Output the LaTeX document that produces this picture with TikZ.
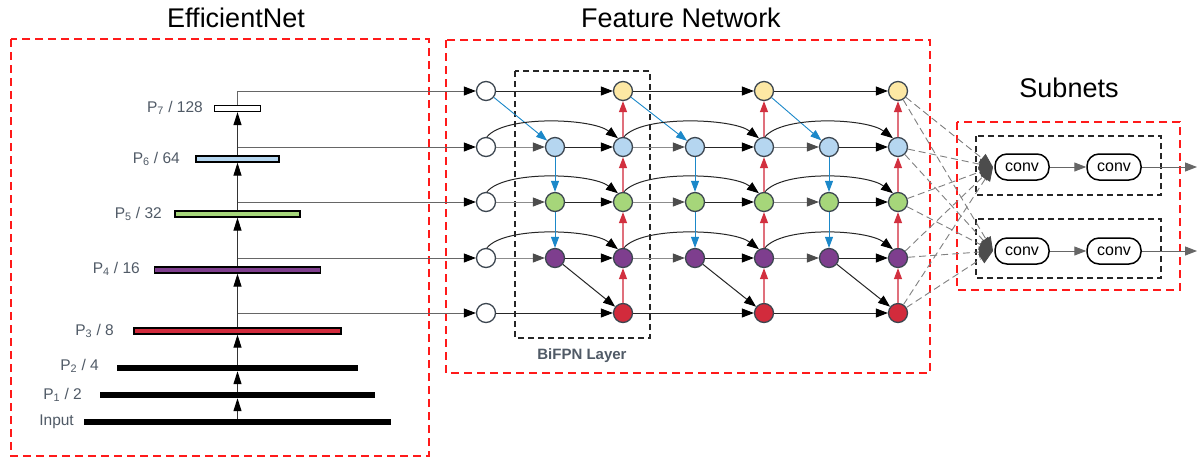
\documentclass[tikz,border=0pt]{standalone}
\usepackage{fontspec}
\setmainfont{Liberation Sans}
\usetikzlibrary{arrows.meta,calc}
\definecolor{redbox}{HTML}{FF1A1A}
\definecolor{ncirc}{HTML}{3C4650}
\definecolor{cPseven}{HTML}{FDE8A4}
\definecolor{cPsix}{HTML}{B5D6F0}
\definecolor{cPfive}{HTML}{A6D67A}
\definecolor{cPfour}{HTML}{7E3E8E}
\definecolor{cPthree}{HTML}{D22B3C}
\definecolor{lblgray}{HTML}{505A66}
\definecolor{bluearr}{HTML}{1B88C9}
\definecolor{redline}{HTML}{E0707C}
\definecolor{redtip}{HTML}{D2303F}
\tikzset{
  fnode/.style={circle, draw=ncirc, line width=1.3pt, minimum size=19pt, inner sep=0pt, fill=white},
  redbox/.style={draw=redbox, line width=2.2pt, dash pattern=on 8pt off 5pt},
  blkbox/.style={draw=black!85, line width=1.8pt, dash pattern=on 6pt off 4pt},
  blk/.style={draw=black!85, line width=1pt, -{Triangle[length=12pt,width=9pt,color=black]}},
  gry/.style={draw=black!45, line width=1pt, -{Triangle[length=12pt,width=9pt,color=black!70]}},
  bluea/.style={draw=bluearr, line width=0.9pt, -{Triangle[length=11pt,width=8pt]}},
  redup/.style={draw=redline, line width=1.2pt, -{Triangle[length=11pt,width=8pt,color=redtip]}},
  curvea/.style={draw=black!85, line width=1pt, -{Triangle[length=12pt,width=9pt,color=black]}},
  feed/.style={draw=black!60, line width=1pt, -{Triangle[length=12pt,width=9pt,color=black]}},
  bar/.style={rectangle, draw=black, line width=1.3pt, minimum height=6pt, inner sep=0pt},
  blackbar/.style={rectangle, fill=black, minimum height=6pt, inner sep=0pt},
  upa/.style={draw=black!80, line width=1pt, -{Triangle[length=13pt,width=8pt,color=black]}},
  outdash/.style={draw=black!50, line width=0.9pt, dash pattern=on 7pt off 4pt, -{Triangle[length=14pt,width=11pt,color=black!70]}},
  convbox/.style={draw=black, line width=1.5pt, rounded corners=12pt, minimum width=54pt, minimum height=26pt, inner sep=0pt, font=\fontsize{16}{18}\selectfont},
  graya/.style={draw=black!60, line width=1pt, -{Triangle[length=12pt,width=9pt,color=black!60]}},
  lbl/.style={anchor=east, text=lblgray, inner sep=0pt, font=\fontsize{15.5}{17}\selectfont},
  ttl/.style={font=\fontsize{27}{30}\selectfont, inner sep=0pt}
}
\begin{document}
\begin{tikzpicture}[x=1pt,y=-1pt]
\useasboundingbox[fill=white] (0,0) rectangle (1203,459);

% titles
\node[ttl] (tEff) at (236,18) {EfficientNet};
\node[ttl] (tFeat) at (681,18) {Feature Network};
\node[ttl] (tSub) at (1069,88) {Subnets};

% group frames
\draw[redbox] (11,39) rectangle (429,456);
\draw[redbox] (446,40) rectangle (930,373);
\draw[redbox] (957,122) rectangle (1180,290);
\draw[blkbox] (515,71) rectangle (650,338);
\draw[blkbox] (976,136) rectangle (1161,195);
\draw[blkbox] (976,219) rectangle (1161,278);
\node[font=\bfseries\fontsize{15}{17}\selectfont, text=lblgray] (bifpn) at (582,356) {BiFPN Layer};

% backbone feature maps
\node[bar, fill=white, minimum width=46pt] (p7) at (237.5,108.5) {};
\node[bar, fill=cPsix, minimum width=83pt] (p6) at (237.5,159) {};
\node[bar, fill=cPfive, minimum width=125pt] (p5) at (237.5,214) {};
\node[bar, fill=cPfour, minimum width=166pt] (p4) at (237.5,270) {};
\node[bar, fill=cPthree, minimum width=207pt] (p3) at (237.5,331) {};
\node[blackbar, minimum width=241pt] (p2) at (237.5,368) {};
\node[blackbar, minimum width=275pt] (p1) at (237.5,395) {};
\node[blackbar, minimum width=307pt] (pin) at (237.5,422) {};

\node[lbl] (l7) at (203,108) {P\textsubscript{7} / 128};
\node[lbl] (l6) at (180,159) {P\textsubscript{6} / 64};
\node[lbl] (l5) at (162,214) {P\textsubscript{5} / 32};
\node[lbl] (l4) at (140,269) {P\textsubscript{4} / 16};
\node[lbl] (l3) at (114,331) {P\textsubscript{3} / 8};
\node[lbl] (l2) at (99,366) {P\textsubscript{2} / 4};
\node[lbl] (l1) at (82,395) {P\textsubscript{1} / 2};
\node[lbl] (l0) at (74,422) {Input};

\draw[upa] (pin) -- (p1);
\draw[upa] (p1) -- (p2);
\draw[upa] (p2) -- (p3);
\draw[upa] (p3) -- (p4);
\draw[upa] (p4) -- (p5);
\draw[upa] (p5) -- (p6);
\draw[upa] (p6) -- (p7);

% feature network nodes
\foreach \r/\y in {7/91,6/147,5/202,4/258,3/313}
  \node[fnode] (n0\r) at (486,\y) {};
\foreach \c/\x in {2/623,4/764,6/898}
  \foreach \r/\y/\f in {7/91/cPseven,6/147/cPsix,5/202/cPfive,4/258/cPfour,3/313/cPthree}
    \node[fnode, fill=\f] (n\c\r) at (\x,\y) {};
\foreach \c/\x in {1/555,3/695,5/829}
  \foreach \r/\y/\f in {6/147/cPsix,5/202/cPfive,4/258/cPfour}
    \node[fnode, fill=\f] (n\c\r) at (\x,\y) {};

% backbone outputs into the feature network
\draw[feed] (p7.north) |- (n07);
\foreach \r in {6,5,4,3}
  \draw[feed] (p\r |- n0\r) -- (n0\r);

% three BiFPN layers
\foreach \p/\t/\b in {0/1/2,2/3/4,4/5/6}{
  \draw[blk] (n\p7) -- (n\b7);
  \draw[bluea] (n\p7) -- (n\t6);
  \foreach \r in {6,5,4}{
    \draw[gry] (n\p\r) -- (n\t\r);
    \draw[blk] (n\t\r) -- (n\b\r);
    \draw[curvea] (n\p\r.85) .. controls +(18,-22) and +(-26,-20) .. (n\b\r.120);
  }
  \draw[bluea] (n\t6) -- (n\t5);
  \draw[bluea] (n\t5) -- (n\t4);
  \draw[blk] (n\t4) -- (n\b3);
  \draw[blk] (n\p3) -- (n\b3);
  \draw[redup] (n\b3) -- (n\b4);
  \draw[redup] (n\b4) -- (n\b5);
  \draw[redup] (n\b5) -- (n\b6);
  \draw[redup] (n\b6) -- (n\b7);
}

% subnets
\coordinate (e1) at (993,167);
\coordinate (e2) at (993,251);
\foreach \r in {7,6,5,4,3}{
  \draw[outdash] (n6\r) -- (e1);
  \draw[outdash] (n6\r) -- (e2);
}
\node[convbox] (a1) at (1022,167) {conv};
\node[convbox] (a2) at (1114,167) {conv};
\node[convbox] (b1) at (1022,251) {conv};
\node[convbox] (b2) at (1114,251) {conv};
\coordinate (ao) at (1197,167);
\coordinate (bo) at (1197,251);
\draw[graya] (a1) -- (a2);
\draw[graya] (a2) -- (ao);
\draw[graya] (b1) -- (b2);
\draw[graya] (b2) -- (bo);
\end{tikzpicture}
\end{document}
